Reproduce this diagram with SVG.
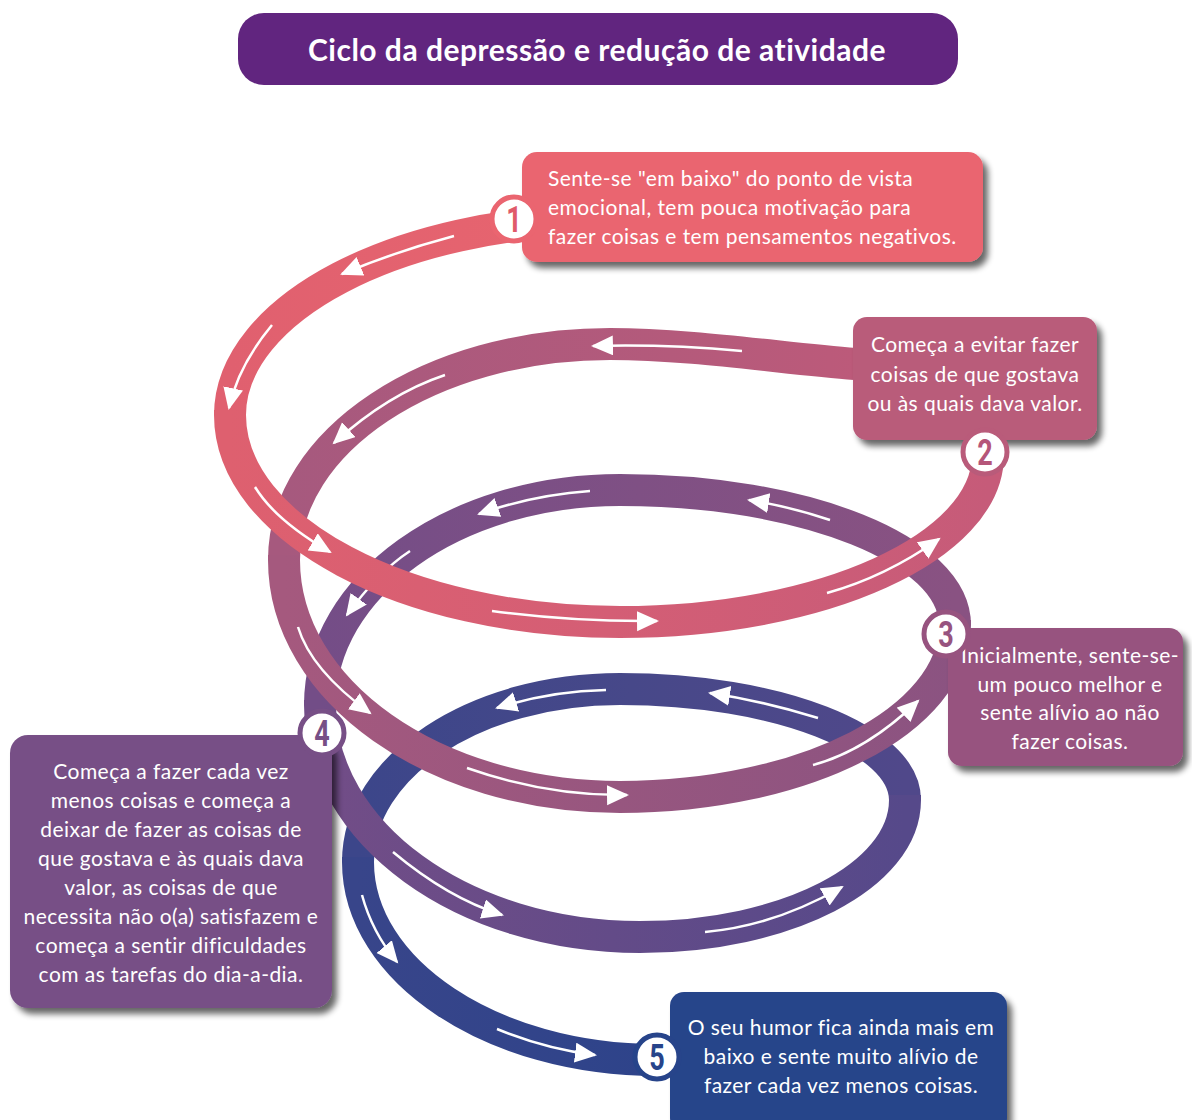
<svg xmlns="http://www.w3.org/2000/svg" width="1192" height="1120" viewBox="0 0 1192 1120">
<defs>
<style>
.band{fill:none;stroke-width:32;stroke-linecap:butt}
.arr{fill:none;stroke:#fff;stroke-width:2.5;marker-end:url(#ah)}
.txt{font-family:Lato,"Noto Sans","Liberation Sans",sans-serif;font-size:21px;letter-spacing:0.45px;fill:#fff}
.num{font-family:Roboto,"Liberation Sans",sans-serif;font-size:36px;font-weight:bold;text-anchor:middle}
.ring{fill:#fff;stroke-width:5}
</style>
<marker id="ah" markerUnits="userSpaceOnUse" markerWidth="24" markerHeight="22" refX="20" refY="10" orient="auto">
<path d="M0 0 L22 10 L0 20 Z" fill="#fff"/>
</marker>
<filter id="sh" x="-10%" y="-10%" width="130%" height="140%">
<feGaussianBlur in="SourceAlpha" stdDeviation="3"/>
<feOffset dx="5" dy="6"/>
<feComponentTransfer><feFuncA type="linear" slope="0.6"/></feComponentTransfer>
<feMerge><feMergeNode/><feMergeNode in="SourceGraphic"/></feMerge>
</filter>
<linearGradient id="g1b" gradientUnits="userSpaceOnUse" x1="605" y1="0" x2="230" y2="0"><stop offset="0" stop-color="#e8656f"/><stop offset="1" stop-color="#e0606f"/></linearGradient>
<linearGradient id="g1f" gradientUnits="userSpaceOnUse" x1="230" y1="0" x2="988" y2="0"><stop offset="0" stop-color="#de606f"/><stop offset="0.5" stop-color="#d45e75"/><stop offset="1" stop-color="#c65b79"/></linearGradient>
<linearGradient id="g2b" gradientUnits="userSpaceOnUse" x1="988" y1="0" x2="284" y2="0"><stop offset="0" stop-color="#c25a79"/><stop offset="0.45" stop-color="#b45a7b"/><stop offset="1" stop-color="#a6597e"/></linearGradient>
<linearGradient id="g2f" gradientUnits="userSpaceOnUse" x1="284" y1="0" x2="955" y2="0"><stop offset="0" stop-color="#a5597e"/><stop offset="0.5" stop-color="#97567f"/><stop offset="1" stop-color="#8b5381"/></linearGradient>
<linearGradient id="g3b" gradientUnits="userSpaceOnUse" x1="955" y1="0" x2="320" y2="0"><stop offset="0" stop-color="#895282"/><stop offset="0.5" stop-color="#7f5084"/><stop offset="1" stop-color="#744d87"/></linearGradient>
<linearGradient id="g3f" gradientUnits="userSpaceOnUse" x1="320" y1="0" x2="905" y2="0"><stop offset="0" stop-color="#724d87"/><stop offset="0.5" stop-color="#634b88"/><stop offset="1" stop-color="#56498a"/></linearGradient>
<linearGradient id="g4b" gradientUnits="userSpaceOnUse" x1="905" y1="0" x2="358" y2="0"><stop offset="0" stop-color="#50488a"/><stop offset="0.5" stop-color="#474889"/><stop offset="1" stop-color="#3c468a"/></linearGradient>
<linearGradient id="g4f" gradientUnits="userSpaceOnUse" x1="358" y1="0" x2="700" y2="0"><stop offset="0" stop-color="#38458a"/><stop offset="1" stop-color="#2c438a"/></linearGradient>
</defs>
<rect width="1192" height="1120" fill="#fff"/>

<g id="title">
<rect x="238" y="13" width="720" height="72" rx="26" fill="#61257f"/>
<text x="597" y="61" text-anchor="middle" style="font-family:Lato,'Noto Sans','Liberation Sans',sans-serif;font-size:30px;letter-spacing:0.5px;font-weight:bold;fill:#fff">Ciclo da depressão e redução de atividade</text>
</g>

<g id="connectors">
<!-- back halves -->
<path class="band" stroke="url(#g1b)" d="M605 220 C398 220 230 309 230 415"/>
<path class="arr" d="M454 236 Q397 251 342 274"/>
<path class="arr" d="M272 325 Q238 366 229 408"/>
<path class="band" stroke="url(#g2b)" d="M988 455 C988 400 930 370 855 364 C780 358 690 344 610 344 C430 344 284 441 284 560"/>
<path class="arr" d="M742 351 Q665 344 593 346"/>
<path class="arr" d="M445 375 Q388 394 334 443"/>
<path class="band" stroke="url(#g3b)" d="M955 625 C955 550 805 490 620 490 C454 490 320 586 320 705"/>
<path class="arr" d="M830 520 Q788 506 749 500"/>
<path class="arr" d="M590 491 Q533 495 479 514"/>
<path class="arr" d="M410 551 Q378 572 347 615"/>
<path class="band" stroke="url(#g4b)" d="M905 800 C905 739 777 689 620 689 C475 689 358 766 358 862"/>
<path class="arr" d="M818 718 Q763 701 710 693"/>
<path class="arr" d="M606 690 Q550 691 497 708"/>
<!-- front halves -->
<path class="band" stroke="url(#g4f)" d="M358 857 L358 862 C358 971 492 1060 657 1060 L700 1060"/>
<path class="arr" d="M362 895 Q372 932 397 962"/>
<path class="arr" d="M497 1029 Q546 1049 595 1055"/>
<path class="band" stroke="url(#g3f)" d="M320 700 L320 705 C320 833 463 937 640 937 C786 937 905 876 905 800 L905 795"/>
<path class="arr" d="M393 852 Q448 898 502 915"/>
<path class="arr" d="M705 932 Q774 926 842 887"/>
<path class="band" stroke="url(#g2f)" d="M284 555 L284 560 C284 691 434 797 620 797 C805 797 955 720 955 625 L955 620"/>
<path class="arr" d="M298 627 Q311 670 370 713"/>
<path class="arr" d="M467 768 Q547 796 627 795"/>
<path class="arr" d="M813 765 Q866 751 918 701"/>
<path class="band" stroke="url(#g1f)" d="M230 410 L230 415 C230 529 405 622 620 622 C823 622 988 547 988 455 L988 450"/>
<path class="arr" d="M255 487 Q275 520 330 552"/>
<path class="arr" d="M492 611 Q575 622 657 621"/>
<path class="arr" d="M827 593 Q885 577 939 539"/>
</g>

<g id="node1">
<rect x="522" y="152" width="461" height="110" rx="15" fill="#ea6570" filter="url(#sh)"/>
<text class="txt" x="548" y="186">Sente-se "em baixo" do ponto de vista</text>
<text class="txt" x="548" y="215">emocional, tem pouca motivação para</text>
<text class="txt" x="548" y="244">fazer coisas e tem pensamentos negativos.</text>
<circle class="ring" cx="514" cy="219" r="22" stroke="#ea6570"/>
<text class="num" transform="translate(514,232) scale(0.75,1)" fill="#e05a6a">1</text>
</g>

<g id="node2">
<rect x="853" y="317" width="244" height="123" rx="14" fill="#b95b7a" filter="url(#sh)"/>
<g class="txt" text-anchor="middle">
<text x="975" y="352">Começa a evitar fazer</text>
<text x="975" y="382">coisas de que gostava</text>
<text x="975" y="411">ou às quais dava valor.</text>
</g>
<circle class="ring" cx="985" cy="452" r="22" stroke="#b95b7a"/>
<text class="num" transform="translate(985,465) scale(0.75,1)" fill="#b55679">2</text>
</g>

<g id="node3">
<rect x="948" y="628" width="235" height="138" rx="14" fill="#97537f" filter="url(#sh)"/>
<g class="txt" text-anchor="middle">
<text x="1070" y="663">Inicialmente, sente-se-</text>
<text x="1070" y="692">um pouco melhor e</text>
<text x="1070" y="720">sente alívio ao não</text>
<text x="1070" y="749">fazer coisas.</text>
</g>
<circle class="ring" cx="946" cy="634" r="22" stroke="#97537f"/>
<text class="num" transform="translate(946,647) scale(0.75,1)" fill="#97537f">3</text>
</g>

<g id="node4">
<rect x="10" y="735" width="322" height="273" rx="18" fill="#774f86" filter="url(#sh)"/>
<g class="txt" text-anchor="middle">
<text x="171" y="779">Começa a fazer cada vez</text>
<text x="171" y="808">menos coisas e começa a</text>
<text x="171" y="837">deixar de fazer as coisas de</text>
<text x="171" y="866">que gostava e às quais dava</text>
<text x="171" y="895">valor, as coisas de que</text>
<text x="171" y="924">necessita não o(a) satisfazem e</text>
<text x="171" y="953">começa a sentir dificuldades</text>
<text x="171" y="982">com as tarefas do dia-a-dia.</text>
</g>
<circle class="ring" cx="322" cy="733" r="22" stroke="#774f86"/>
<text class="num" transform="translate(322,746) scale(0.75,1)" fill="#774f86">4</text>
</g>

<g id="node5">
<rect x="670" y="992" width="337" height="140" rx="14" fill="#27448a" filter="url(#sh)"/>
<g class="txt" text-anchor="middle">
<text x="841" y="1035">O seu humor fica ainda mais em</text>
<text x="841" y="1064">baixo e sente muito alívio de</text>
<text x="841" y="1093">fazer cada vez menos coisas.</text>
</g>
<circle class="ring" cx="657" cy="1057" r="22" stroke="#27448a"/>
<text class="num" transform="translate(657,1070) scale(0.75,1)" fill="#27448a">5</text>
</g>
</svg>
